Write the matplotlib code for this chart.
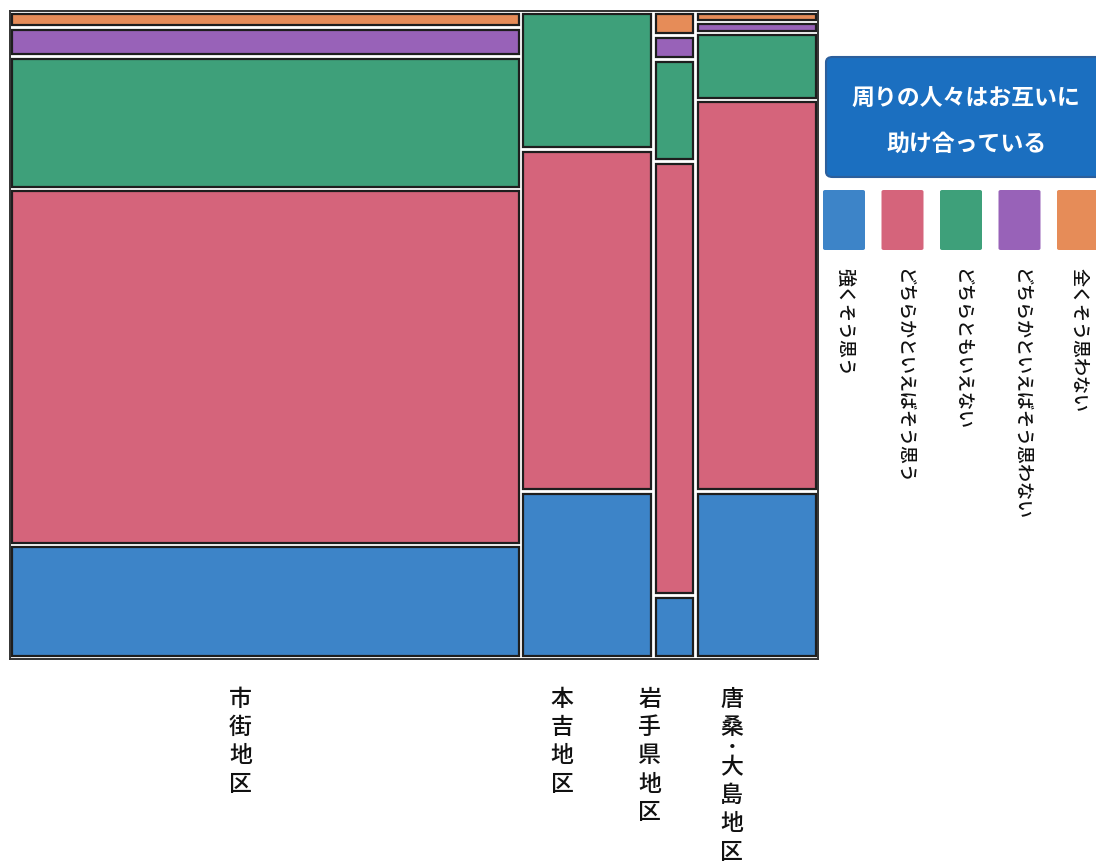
import numpy as np
import matplotlib
matplotlib.use("Agg")
import matplotlib.pyplot as plt
from matplotlib.patches import FancyBboxPatch

plt.rcParams['font.family'] = ['Noto Sans CJK JP', 'DejaVu Sans']

# ------------------------------- data ---------------------------------------
regions = ['市街地区', '本吉地区', '岩手県地区', '唐桑・大島地区']
answers = ['強くそう思う', 'どちらかといえばそう思う', 'どちらともいえない',
           'どちらかといえばそう思わない', '全くそう思わない']
colors = ['#3d84c8', '#d5647b', '#3ea07a', '#9862b8', '#e68c58']

# counts per answer (rows) x region (columns), bottom to top order
strong_yes = [75, 28, 3, 26]
rather_yes = [242, 58, 22, 62]
neutral    = [88, 23, 5, 10]
rather_no  = [17, 0, 1, 1]
never      = [8, 0, 1, 1]

legend_title = '周りの人々はお互いに\n助け合っている'

# ------------------------------- layout -------------------------------------
counts = np.array([strong_yes, rather_yes, neutral, rather_no, never], dtype=float)
totals = counts.sum(axis=0)

fig = plt.figure(figsize=(10.96, 8.64), dpi=100)
ax = fig.add_axes([10 / 1096, 1 - 659 / 864, 808 / 1096, 648 / 864])

hgap = 0.0055
vgap = 0.007
col_w = totals / totals.sum() * (1 - hgap * (len(regions) - 1))
col_x = np.concatenate([[0], np.cumsum(col_w + hgap)[:-1]])

for j in range(len(regions)):
    nz = counts[:, j] > 0
    avail = 1 - vgap * (nz.sum() - 1)
    bottom = 0.0
    for i in range(len(answers)):
        if counts[i, j] == 0:
            continue
        h = counts[i, j] / totals[j] * avail
        ax.bar(col_x[j], h, width=col_w[j], bottom=bottom, align='edge',
               color=colors[i], edgecolor='#1e1e1e', linewidth=1.6)
        bottom += h + vgap

ax.set_xlim(-0.003, 1.003)
ax.set_ylim(-0.004, 1.004)
ax.set_xticks([])
ax.set_yticks([])
for sp in ax.spines.values():
    sp.set_color('#333333')
    sp.set_linewidth(1.4)

# region labels, vertical writing one character at a time
step = 20.4   # points between character centres
for j, name in enumerate(regions):
    yoff = -29.0
    prev = None
    for ch in name:
        is_dot = ch == '・'
        if prev is not None:
            yoff -= step * (0.7 if '・' in (ch, prev) else 1.0)
        ax.annotate(ch, xy=(col_x[j] + col_w[j] / 2, 0),
                    xycoords=('data', 'axes fraction'),
                    xytext=(-18, yoff), textcoords='offset points',
                    ha='center', va='center',
                    fontsize=12 if is_dot else 16.5,
                    fontweight='bold' if is_dot else 'medium',
                    color='#111111')
        prev = ch

# legend title box
box = FancyBboxPatch((826 / 1096, 1 - 177 / 864), 0.3, 120 / 864,
                     boxstyle='round,pad=0,rounding_size=0.006',
                     transform=fig.transFigure, facecolor='#1b6fc0',
                     edgecolor='#2c5f9c', linewidth=1.5, clip_on=False)
fig.add_artist(box)
fig.text(966 / 1096, 1 - 122 / 864, legend_title, ha='center', va='center',
         color='white', fontsize=16.5, fontweight='bold', linespacing=2.25)

# legend swatches and vertical labels
sw_w, sw_h, sw_step = 42, 60, 58.5
for i, (lab, c) in enumerate(zip(answers, colors)):
    x0 = 823 + i * sw_step
    sw = FancyBboxPatch((x0 / 1096, 1 - 250 / 864), sw_w / 1096, sw_h / 864,
                        boxstyle='round,pad=0,rounding_size=0.002',
                        transform=fig.transFigure, facecolor=c,
                        edgecolor='none', clip_on=False)
    fig.add_artist(sw)
    fig.text((x0 + sw_w / 2 + 1) / 1096, 1 - 268 / 864, lab, rotation=-90,
             ha='center', va='top', fontsize=13, fontweight='medium',
             color='#111111')

fig.savefig('out.png', dpi=100, facecolor='white')
